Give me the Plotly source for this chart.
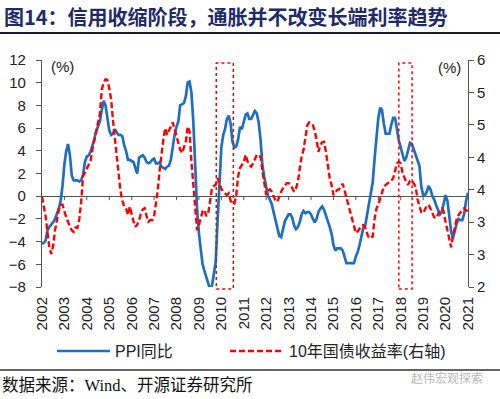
import plotly.graph_objects as go
import pandas as pd
import numpy as np

# ---------------- data ----------------
dates = pd.date_range("2002-01-01", "2021-01-01", freq="MS")

ppi = [
    -4.2, -4.1, -3.9, -3.0, -2.7, -2.5, -2.3, -2.0, -1.6, -1.1, -0.4, 0.9,    # 2002
    2.8, 4.0, 4.6, 3.6, 1.8, 1.4, 1.4, 1.4, 1.3, 1.4, 1.9, 3.0,               # 2003
    3.5, 3.6, 3.9, 4.4, 5.0, 5.7, 6.2, 6.6, 7.6, 8.4, 8.0, 7.1,               # 2004
    5.8, 5.4, 5.5, 5.9, 5.6, 5.4, 5.4, 5.3, 4.5, 4.0, 3.2, 3.2,               # 2005
    3.1, 3.0, 2.5, 2.0, 3.4, 3.5, 3.6, 3.4, 3.0, 2.9, 3.0, 3.2,               # 2006
    3.3, 2.9, 2.9, 3.0, 2.6, 2.5, 2.4, 2.6, 2.7, 3.2, 4.6, 5.4,               # 2007
    6.1, 6.6, 8.0, 8.1, 8.2, 8.8, 10.0, 10.1, 9.1, 6.6, 2.0, -1.1,            # 2008
    -3.3, -4.5, -6.0, -6.6, -7.2, -7.8, -8.2, -7.9, -7.0, -5.8, -2.1, 1.7,    # 2009
    4.3, 5.4, 5.9, 6.8, 7.1, 6.4, 4.8, 4.3, 4.4, 5.0, 6.1, 5.9,               # 2010
    6.6, 7.2, 7.3, 6.8, 6.8, 7.1, 7.5, 7.3, 6.5, 5.0, 2.7, 1.7,               # 2011
    0.7, 0.0, -0.3, -0.7, -1.4, -2.1, -2.9, -3.5, -3.6, -2.8, -2.2, -1.9,     # 2012
    -1.6, -1.6, -1.9, -2.6, -2.9, -2.7, -2.3, -1.6, -1.3, -1.5, -1.4, -1.4,   # 2013
    -1.6, -2.0, -2.3, -2.0, -1.4, -1.1, -0.9, -1.2, -1.8, -2.2, -2.7, -3.3,   # 2014
    -4.3, -4.8, -4.6, -4.6, -4.6, -4.8, -5.4, -5.9, -5.9, -5.9, -5.9, -5.9,   # 2015
    -5.3, -4.9, -4.3, -3.4, -2.8, -2.6, -1.7, -0.8, 0.1, 1.2, 3.3, 5.5,       # 2016
    6.9, 7.8, 7.6, 6.4, 5.5, 5.5, 5.5, 6.3, 6.9, 6.9, 5.8, 4.9,               # 2017
    4.3, 3.7, 3.1, 3.4, 4.1, 4.7, 4.6, 4.1, 3.6, 3.3, 2.7, 0.9,               # 2018
    0.1, 0.1, 0.4, 0.9, 0.6, 0.0, -0.3, -0.8, -1.2, -1.6, -1.4, -0.5,         # 2019
    0.1, -0.4, -1.5, -3.1, -3.7, -3.0, -2.4, -2.0, -2.1, -2.1, -1.5, -0.4,    # 2020
    0.3,                                                                       # 2021
]

yield10 = [
    3.59, 3.42, 3.25, 2.95, 2.70, 2.58, 2.72, 3.00, 3.22, 3.35, 3.45, 3.45,   # 2002
    3.33, 3.25, 3.15, 3.06, 3.00, 2.97, 3.05, 3.04, 3.20, 3.50, 3.95, 4.02,   # 2003
    4.09, 4.15, 4.22, 4.42, 4.58, 4.68, 4.85, 5.05, 5.48, 5.60, 5.66, 5.65,   # 2004
    5.50, 5.30, 4.95, 4.60, 4.30, 3.97, 3.70, 3.52, 3.42, 3.38, 3.27, 3.42,   # 2005
    3.27, 3.15, 3.06, 3.10, 3.17, 3.30, 3.37, 3.39, 3.25, 3.15, 3.18, 3.18,   # 2006
    3.25, 3.45, 3.70, 4.05, 4.35, 4.60, 4.80, 4.68, 4.76, 4.82, 4.90, 4.78,   # 2007
    4.65, 4.50, 4.42, 4.36, 4.45, 4.56, 4.83, 4.74, 4.20, 3.80, 3.30, 3.00,   # 2008
    3.10, 3.25, 3.33, 3.36, 3.25, 3.30, 3.48, 3.74, 3.78, 3.80, 3.92, 3.82,   # 2009
    3.73, 3.68, 3.65, 3.62, 3.65, 3.52, 3.46, 3.47, 3.62, 3.95, 4.10, 4.15,   # 2010
    4.20, 4.33, 4.22, 4.15, 4.12, 4.18, 4.25, 4.33, 4.30, 4.30, 4.05, 3.80,   # 2011
    3.62, 3.70, 3.72, 3.68, 3.60, 3.52, 3.50, 3.60, 3.68, 3.74, 3.78, 3.83,   # 2012
    3.83, 3.80, 3.74, 3.68, 3.74, 3.85, 4.09, 4.30, 4.42, 4.65, 4.85, 4.90,   # 2013
    4.88, 4.85, 4.75, 4.60, 4.38, 4.50, 4.55, 4.56, 4.38, 4.10, 3.92, 3.80,   # 2014
    3.62, 3.66, 3.71, 3.72, 3.78, 3.82, 3.70, 3.58, 3.45, 3.30, 3.18, 3.07,   # 2015
    2.95, 2.98, 3.03, 3.08, 3.09, 3.05, 2.95, 2.86, 2.87, 2.89, 3.20, 3.38,   # 2016
    3.45, 3.55, 3.65, 3.77, 3.80, 3.83, 3.85, 3.87, 3.92, 4.05, 4.18, 4.21,   # 2017
    4.18, 4.00, 3.92, 3.85, 3.80, 3.87, 3.88, 3.82, 3.77, 3.55, 3.42, 3.32,   # 2018
    3.30, 3.37, 3.43, 3.45, 3.38, 3.29, 3.23, 3.21, 3.30, 3.35, 3.38, 3.33,   # 2019
    3.15, 2.98, 2.82, 2.70, 2.90, 3.08, 3.20, 3.27, 3.32, 3.36, 3.39, 3.35,   # 2020
    3.33,                                                                      # 2021
]

year_labels = [str(y) for y in range(2002, 2022)]
left_ticks = list(range(-8, 13, 2))
right_tick_labels = ["2", "3", "3", "4", "4", "5", "5", "6"]
box_starts = ["2009-10-10", "2017-12-01"]
box_ends = ["2010-07-15", "2018-07-05"]

series_names = ["PPI同比", "10年国债收益率(右轴)"]
title_text = "图14：信用收缩阶段，通胀并不改变长端利率趋势"
source_text = "数据来源：Wind、开源证券研究所"
watermark_text = "赵伟宏观探索"

# ---------------- layout helpers ----------------
W, H = 500, 399
L, R, T, B = 42, 32, 60, 112
PW, PH = W - L - R, H - T - B


def px(x):
    return (x - L) / PW


def py(y):
    return (H - B - y) / PH


BLUE = "#1F6FC0"
RED = "#FF0000"
AXIS = "#555555"
FONT = "Liberation Sans, Arial, Noto Sans CJK SC"
CJK = "Noto Sans CJK SC, Liberation Sans"

fig = go.Figure()
fig.add_trace(go.Scatter(x=dates, y=ppi, mode="lines", name=series_names[0],
                         line=dict(color=BLUE, width=2.7), yaxis="y", showlegend=False))
fig.add_trace(go.Scatter(x=dates, y=yield10, mode="lines", name=series_names[1],
                         line=dict(color=RED, width=2.4, dash="6px,3px"), yaxis="y2",
                         showlegend=False))

shapes = []
# highlighted periods (dotted red boxes)
for s, e in zip(box_starts, box_ends):
    shapes.append(dict(type="rect", xref="x", yref="paper", x0=s, x1=e,
                       y0=py(289), y1=py(63),
                       line=dict(color=RED, width=1.5, dash="dot"),
                       fillcolor="rgba(0,0,0,0)", layer="above"))
# small year ticks on the zero line
for yl in year_labels[1:-1]:
    shapes.append(dict(type="line", xref="x", yref="y", x0=f"{yl}-01-01", x1=f"{yl}-01-01",
                       y0=0, y1=-0.35, line=dict(color=AXIS, width=1)))
# title underline and bottom divider
shapes.append(dict(type="line", xref="paper", yref="paper", x0=px(0), x1=px(500),
                   y0=py(33), y1=py(33), line=dict(color="#1a1a2a", width=2)))
shapes.append(dict(type="line", xref="paper", yref="paper", x0=px(0), x1=px(500),
                   y0=py(370), y1=py(370), line=dict(color="#333333", width=1.5)))
# legend samples
shapes.append(dict(type="line", xref="paper", yref="paper", x0=px(57), x1=px(110),
                   y0=py(351), y1=py(351), line=dict(color=BLUE, width=2.7)))
shapes.append(dict(type="line", xref="paper", yref="paper", x0=px(230), x1=px(283),
                   y0=py(351), y1=py(351), line=dict(color=RED, width=2.4, dash="6px,3px")))

annotations = [
    dict(text="<b>" + title_text + "</b>", xref="paper", yref="paper", x=px(2), y=py(16),
         xanchor="left", yanchor="middle", showarrow=False,
         font=dict(family=CJK, size=20, color="#1F2A6B")),
    dict(text="(%)", xref="paper", yref="paper", x=px(49), y=py(66), xanchor="left",
         yanchor="middle", showarrow=False, font=dict(family=FONT, size=15, color="#222")),
    dict(text="(%)", xref="paper", yref="paper", x=px(463), y=py(67), xanchor="right",
         yanchor="middle", showarrow=False, font=dict(family=FONT, size=15, color="#222")),
    dict(text=series_names[0], xref="paper", yref="paper", x=px(113), y=py(351),
         xanchor="left", yanchor="middle", showarrow=False,
         font=dict(family=FONT, size=16, color="#222")),
    dict(text=series_names[1], xref="paper", yref="paper", x=px(287), y=py(351),
         xanchor="left", yanchor="middle", showarrow=False,
         font=dict(family=FONT, size=16, color="#222")),
    dict(text=source_text, xref="paper", yref="paper", x=px(0), y=py(385),
         xanchor="left", yanchor="middle", showarrow=False,
         font=dict(family="Liberation Serif, Noto Sans CJK SC", size=16.5, color="#111")),
    dict(text=watermark_text, xref="paper", yref="paper", x=px(485), y=py(377),
         xanchor="right", yanchor="middle", showarrow=False,
         font=dict(family=CJK, size=12, color="#B8B8B8")),
]

fig.update_layout(
    width=W, height=H, autosize=False,
    margin=dict(l=L, r=R, t=T, b=B, pad=0),
    paper_bgcolor="white", plot_bgcolor="white",
    showlegend=False,
    font=dict(family=FONT, size=15, color="#222"),
    xaxis=dict(type="date", range=["2002-01-01", "2021-01-01"], automargin=False,
               tickvals=[f"{y}-01-01" for y in year_labels], ticktext=year_labels,
               tickangle=-90, showgrid=False, zeroline=False, showline=False,
               ticks="", tickfont=dict(size=15, color="#222"), ticklabelstandoff=6),
    yaxis=dict(range=[-8, 12], tickvals=left_ticks, showgrid=False, automargin=False,
               zeroline=True, zerolinecolor=AXIS, zerolinewidth=1.3,
               showline=True, linecolor=AXIS, linewidth=1.2,
               ticks="outside", ticklen=5, tickcolor=AXIS, tickwidth=1.2,
               tickfont=dict(size=15, color="#222"), ticklabelstandoff=7),
    yaxis2=dict(range=[2, 6], overlaying="y", side="right", automargin=False,
                tickvals=list(np.linspace(2, 6, len(right_tick_labels))),
                ticktext=right_tick_labels, showgrid=False, zeroline=False,
                showline=True, linecolor=AXIS, linewidth=1.2,
                ticks="outside", ticklen=5, tickcolor=AXIS, tickwidth=1.2,
                tickfont=dict(size=15, color="#222")),
    shapes=shapes,
    annotations=annotations,
)

fig.write_html("out.html", config={"displayModeBar": False},
               post_script="document.body.style.margin='0px';document.body.style.overflow='hidden';")
